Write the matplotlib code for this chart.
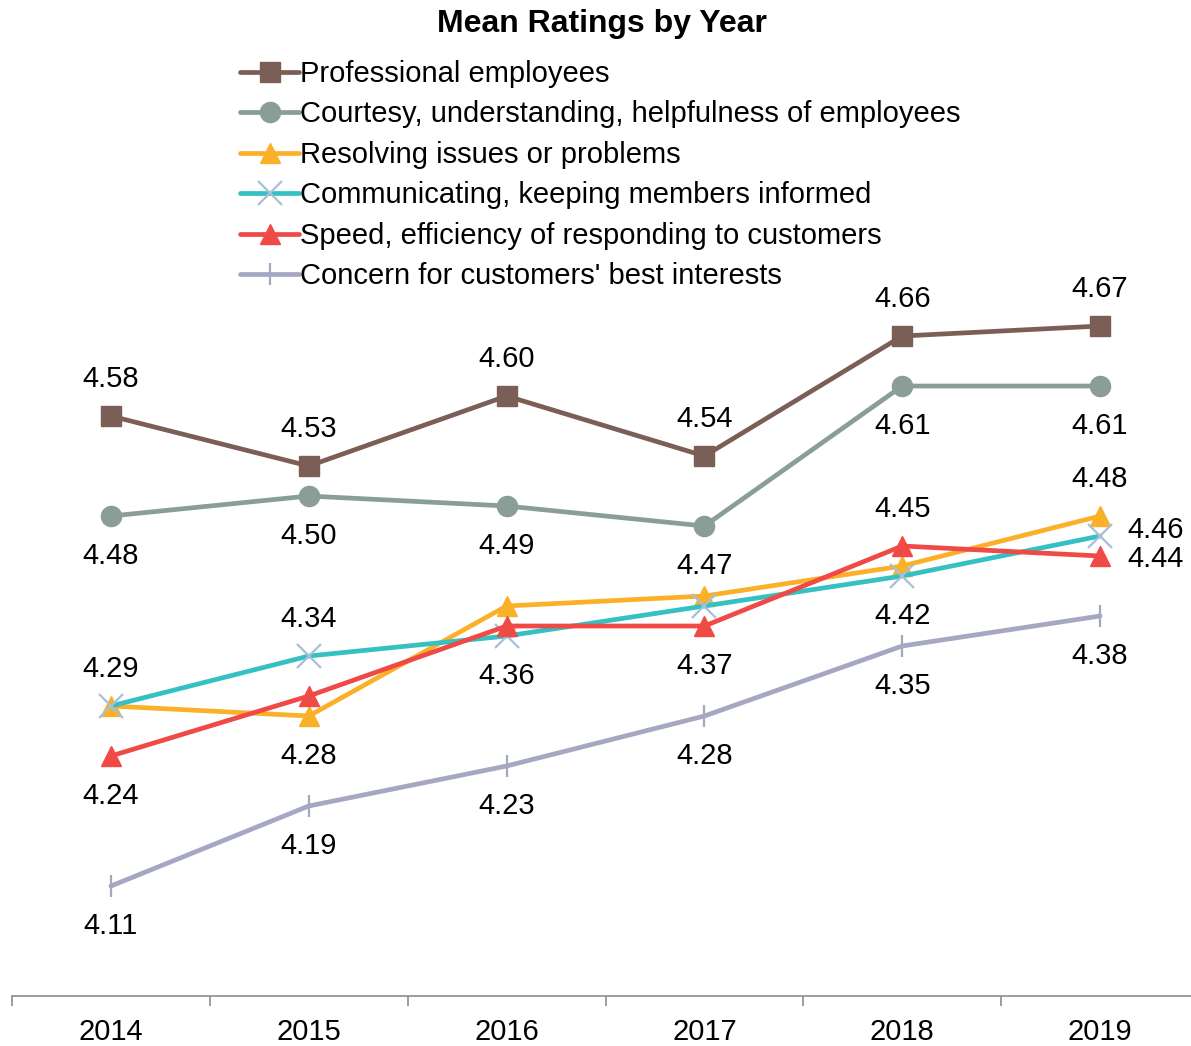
import matplotlib
matplotlib.use("Agg")
import matplotlib.pyplot as plt

plt.rcParams["font.family"] = ["Liberation Sans", "DejaVu Sans"]

years = ["2014", "2015", "2016", "2017", "2018", "2019"]

professional = [4.58, 4.53, 4.60, 4.54, 4.66, 4.67]
courtesy = [4.48, 4.50, 4.49, 4.47, 4.61, 4.61]
resolving = [4.29, 4.28, 4.39, 4.40, 4.43, 4.48]
communicating = [4.29, 4.34, 4.36, 4.39, 4.42, 4.46]
speed = [4.24, 4.30, 4.37, 4.37, 4.45, 4.44]
concern = [4.11, 4.19, 4.23, 4.28, 4.35, 4.38]

series_names = [
    "Professional employees",
    "Courtesy, understanding, helpfulness of employees",
    "Resolving issues or problems",
    "Communicating, keeping members informed",
    "Speed, efficiency of responding to customers",
    "Concern for customers' best interests",
]

# which points get a value label: (series index, year index, placement)
value_labels = [
    (0, 0, "above"), (0, 1, "above"), (0, 2, "above"), (0, 3, "above"), (0, 4, "above"), (0, 5, "above"),
    (1, 0, "below"), (1, 1, "below"), (1, 2, "below"), (1, 3, "below"), (1, 4, "below"), (1, 5, "below"),
    (2, 1, "below"), (2, 5, "above"),
    (3, 0, "above"), (3, 1, "above"), (3, 2, "below"), (3, 4, "below"), (3, 5, "right_up"),
    (4, 0, "below"), (4, 3, "below"), (4, 4, "above"), (4, 5, "right_down"),
    (5, 0, "below"), (5, 1, "below"), (5, 2, "below"), (5, 3, "below"), (5, 4, "below"), (5, 5, "below"),
]

styles = [
    dict(color="#7b5f57", marker="s", markersize=14, markerfacecolor="#7b5f57", markeredgecolor="#7b5f57"),
    dict(color="#8a9e96", marker="o", markersize=14.5, markerfacecolor="#8a9e96", markeredgecolor="#8a9e96"),
    dict(color="#fbb02a", marker="^", markersize=15, markerfacecolor="#fbb02a", markeredgecolor="#fbb02a"),
    dict(color="#35c0c4", marker="x", markersize=17, markeredgecolor="#a8bfd6", markeredgewidth=1.6),
    dict(color="#f04a47", marker="^", markersize=15, markerfacecolor="#f04a47", markeredgecolor="#f04a47"),
    dict(color="#a5a7c3", marker="|", markersize=16, markeredgecolor="#a5a7c3", markeredgewidth=1.6),
]

all_series = [professional, courtesy, resolving, communicating, speed, concern]

fig = plt.figure(figsize=(11.91, 10.46), dpi=100)
ax = fig.add_axes([0.0101, 0.0478, 0.9966, 0.7648])

x = list(range(len(years)))
handles = []
for name, values, st in zip(series_names, all_series, styles):
    (ln,) = ax.plot(x, values, linewidth=3.4, label=name, solid_capstyle="round", **st)
    handles.append(ln)

offsets = {
    "above": (0, 27, "center"),
    "below": (0, -29, "center"),
    "right_up": (20, 4, "left"),
    "right_down": (20, -2, "left"),
}
for si, yi, place in value_labels:
    dx, dy, ha = offsets[place]
    ax.annotate(f"{all_series[si][yi]:.2f}", (x[yi], all_series[si][yi]),
                xytext=(dx, dy), textcoords="offset points",
                ha=ha, va="center", fontsize=21)

ax.set_xlim(-0.5, len(years) - 0.5)
ax.set_ylim(4.0, 4.8)
ax.set_yticks([])
ax.set_xticks(x)
ax.set_xticklabels(years, fontsize=21)
ax.set_xticks([i - 0.5 for i in range(len(years) + 1)], minor=True)
ax.tick_params(axis="x", which="major", length=0, pad=16)
ax.tick_params(axis="x", which="minor", length=7, width=1.2, color="#8c8c8c")
for side in ("top", "right", "left"):
    ax.spines[side].set_visible(False)
ax.spines["bottom"].set_color("#8c8c8c")
ax.spines["bottom"].set_linewidth(1.2)

fig.text(0.505, 0.977, "Mean Ratings by Year", ha="center", va="center",
         fontsize=23, fontweight="bold")

fig.legend(handles=handles, loc="upper left", bbox_to_anchor=(0.192, 0.954),
           frameon=False, fontsize=21, handlelength=2.0, handletextpad=0.05,
           labelspacing=0.43, borderaxespad=0)

fig.savefig("out.png", dpi=100)
